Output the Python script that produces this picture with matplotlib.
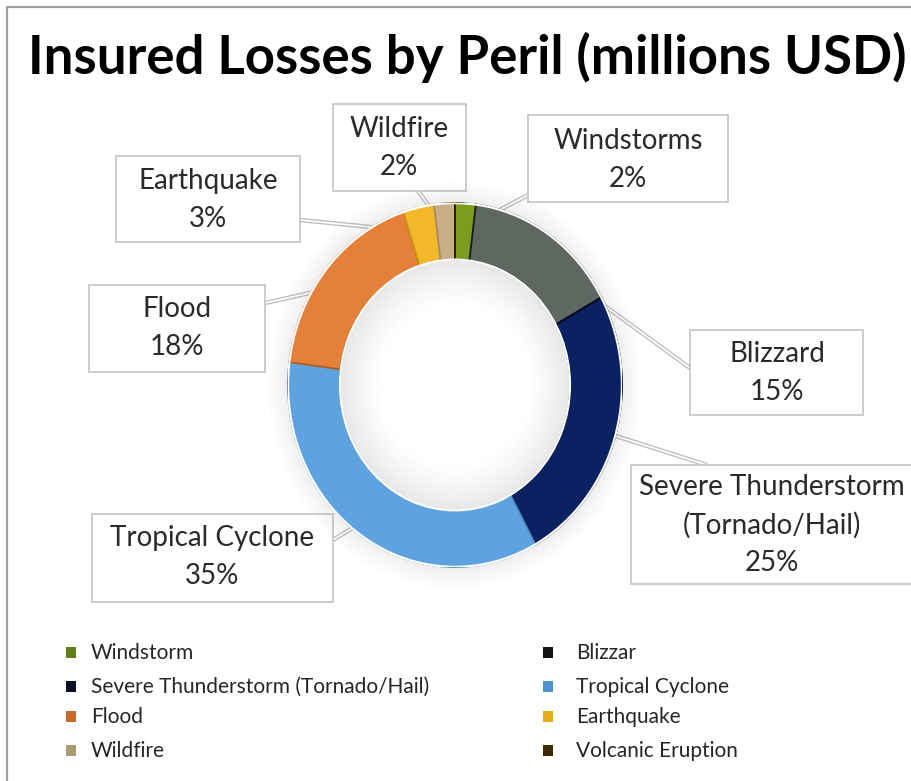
import numpy as np
import matplotlib
matplotlib.use('Agg')
import matplotlib.pyplot as plt
from matplotlib.patches import Rectangle, Wedge

# share of insured losses by peril (percent), clockwise from 12 o'clock
perils = ['Windstorm', 'Blizzard', 'Severe Thunderstorm', 'Tropical Cyclone',
          'Flood', 'Earthquake', 'Wildfire', 'Volcanic Eruption']
shares = [2, 15, 25, 35, 18, 3, 2, 0]
callout_names = ['Windstorms', 'Blizzard', 'Severe Thunderstorm\n(Tornado/Hail)',
                 'Tropical Cyclone', 'Flood', 'Earthquake', 'Wildfire', '']
legend_names = ['Windstorm', 'Blizzar', 'Severe Thunderstorm (Tornado/Hail)',
                'Tropical Cyclone', 'Flood', 'Earthquake', 'Wildfire',
                'Volcanic Eruption']

colors = ['#7d9b1f', '#5f6761', '#0b2262', '#5ea3e0',
          '#e4803a', '#f2b82a', '#c8ad86', '#3b2c08']
edges = ['#55700f', '#1a1d1b', '#02081f', '#4f8fc8',
         '#b35e20', '#c99512', '#a88e66', '#1c1403']
legend_colors = ['#5f7f1a', '#151515', '#0a0f24', '#4d93d2',
                 '#c86a2a', '#e6ab1c', '#a89c70', '#3a2a06']

# callout boxes (pixel coords): box extents, text centre, leader end
boxes = [(528, 115, 728, 202), (690, 330, 863, 415), (631, 465, 930, 584),
         (92, 514, 333, 602), (89, 285, 265, 372), (116, 156, 300, 242),
         (333, 104, 466, 191), None]
text_xy = [(628, 160), (777, 373), (772, 525), (212, 557), (177, 328),
           (208, 200), (399, 148), None]
leader_end = [(528, 195), (690, 368), (707, 465), (333, 540), (265, 303),
              (300, 220), (418, 191), None]

W, H = 911, 781
cx, cy, rx, ry = 455, 385, 167, 182

fig = plt.figure(figsize=(W / 100, H / 100), dpi=100)
bg = fig.add_axes([0, 0, 1, 1])
bg.set_xlim(0, W)
bg.set_ylim(H, 0)
bg.axis('off')

ax = fig.add_axes([(cx - rx) / W, (H - cy - ry) / H, 2 * rx / W, 2 * ry / H])

# soft halo outside the ring and shading inside the hole
for i, r in enumerate(np.linspace(1.12, 1.0, 12)):
    ax.add_patch(Wedge((0, 0), r, 0, 360, width=0.012, color='#9a9a9a',
                       alpha=0.012 * (i + 1), lw=0, clip_on=False))
for i, r in enumerate(np.linspace(0.46, 0.69, 16)):
    ax.add_patch(Wedge((0, 0), r, 0, 360, width=0.016, color='#8c8c8c',
                       alpha=0.006 * (i + 1) ** 1.25, lw=0))

wedges, _ = ax.pie(shares, colors=colors, startangle=90, counterclock=False,
                   radius=1.0, wedgeprops=dict(width=0.31, linewidth=1.3))
for w, ec in zip(wedges, edges):
    w.set_edgecolor(ec)
ax.add_patch(Wedge((0, 0), 1.005, 0, 360, width=0.012, color='white', lw=0))
ax.add_patch(Wedge((0, 0), 0.695, 0, 360, width=0.012, color='white', lw=0))
ax.set_xlim(-1, 1)
ax.set_ylim(-1, 1)
ax.set_aspect('auto')
ax.axis('off')

fig.canvas.draw()
to_bg = bg.transData.inverted()
total = sum(shares)
for i, w in enumerate(wedges):
    if shares[i] == 0:
        continue
    mid = np.deg2rad((w.theta1 + w.theta2) / 2)
    start = to_bg.transform(ax.transData.transform((0.86 * np.cos(mid), 0.86 * np.sin(mid))))
    end = leader_end[i]
    bg.plot([start[0], end[0]], [start[1], end[1]], color='#bdbdbd', lw=3.2,
            solid_capstyle='butt', zorder=3)
    bg.plot([start[0], end[0]], [start[1], end[1]], color='white', lw=1.3,
            solid_capstyle='butt', zorder=3)
    x0, y0, x1, y1 = boxes[i]
    bg.add_patch(Rectangle((x0, y0), x1 - x0, y1 - y0, facecolor='white',
                           edgecolor='#c4c4c4', lw=1.2, zorder=4))
    pct = round(shares[i] / total * 100)
    bg.text(text_xy[i][0], text_xy[i][1], f'{callout_names[i]}\n{pct}%',
            ha='center', va='center', fontsize=20, family='Lato',
            color='#2a2a2a', linespacing=1.55, zorder=5)

bg.text(467, 57, 'Insured Losses by Peril (millions USD)', ha='center',
        va='center', fontsize=38, family='Lato', fontweight='bold',
        color='black')

# frame line along top and left
bg.plot([7, 7, W + 5], [H + 5, 7, 7], color='#9e9e9e', lw=1.6)

# two-column legend, row by row
legend_rows = [653, 687, 717, 751]
for i, name in enumerate(legend_names):
    row, col = divmod(i, 2)
    mx = 66 if col == 0 else 543
    tx = 91 if col == 0 else 576
    y = legend_rows[row]
    bg.add_patch(Rectangle((mx, y - 6), 10, 11, facecolor=legend_colors[i],
                           edgecolor='none'))
    bg.text(tx, y, name, ha='left', va='center', fontsize=15,
            family='Lato', color='#262626')

fig.savefig('out.png', dpi=100)
